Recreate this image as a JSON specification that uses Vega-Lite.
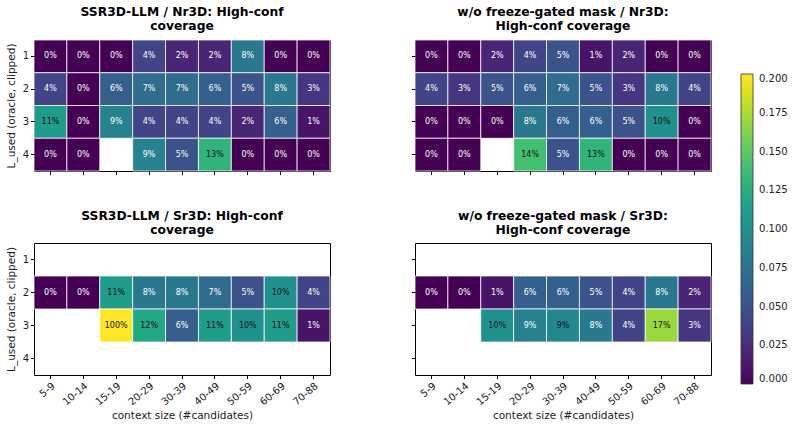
{
  "$schema": "https://vega.github.io/schema/vega-lite/v6.json",
  "padding": {"left": 5, "top": 5, "right": 5, "bottom": 5},
  "background": "white",
  "config": {
    "font": "DejaVu Sans",
    "view": {"stroke": "black", "strokeWidth": 1},
    "title": {"fontSize": 12.3, "fontWeight": "bold", "color": "black", "lineHeight": 14, "offset": 7},
    "axis": {"domain": false, "grid": false, "tickColor": "black", "tickSize": 3.5, "labelColor": "#222", "labelFontSize": 10, "titleFontSize": 10.5, "titleFontWeight": "normal", "titleColor": "#222", "labelPadding": 2},
    "concat": {"spacing": 30}
  },
  "data": {"values": [
    {"model": "SSR3D-LLM", "dataset": "Nr3D", "L": 1, "ctx": "5-9", "value": 0},
    {"model": "SSR3D-LLM", "dataset": "Nr3D", "L": 1, "ctx": "10-14", "value": 0},
    {"model": "SSR3D-LLM", "dataset": "Nr3D", "L": 1, "ctx": "15-19", "value": 0},
    {"model": "SSR3D-LLM", "dataset": "Nr3D", "L": 1, "ctx": "20-29", "value": 0.04},
    {"model": "SSR3D-LLM", "dataset": "Nr3D", "L": 1, "ctx": "30-39", "value": 0.02},
    {"model": "SSR3D-LLM", "dataset": "Nr3D", "L": 1, "ctx": "40-49", "value": 0.02},
    {"model": "SSR3D-LLM", "dataset": "Nr3D", "L": 1, "ctx": "50-59", "value": 0.08},
    {"model": "SSR3D-LLM", "dataset": "Nr3D", "L": 1, "ctx": "60-69", "value": 0},
    {"model": "SSR3D-LLM", "dataset": "Nr3D", "L": 1, "ctx": "70-88", "value": 0},
    {"model": "SSR3D-LLM", "dataset": "Nr3D", "L": 2, "ctx": "5-9", "value": 0.04},
    {"model": "SSR3D-LLM", "dataset": "Nr3D", "L": 2, "ctx": "10-14", "value": 0},
    {"model": "SSR3D-LLM", "dataset": "Nr3D", "L": 2, "ctx": "15-19", "value": 0.06},
    {"model": "SSR3D-LLM", "dataset": "Nr3D", "L": 2, "ctx": "20-29", "value": 0.07},
    {"model": "SSR3D-LLM", "dataset": "Nr3D", "L": 2, "ctx": "30-39", "value": 0.07},
    {"model": "SSR3D-LLM", "dataset": "Nr3D", "L": 2, "ctx": "40-49", "value": 0.06},
    {"model": "SSR3D-LLM", "dataset": "Nr3D", "L": 2, "ctx": "50-59", "value": 0.05},
    {"model": "SSR3D-LLM", "dataset": "Nr3D", "L": 2, "ctx": "60-69", "value": 0.08},
    {"model": "SSR3D-LLM", "dataset": "Nr3D", "L": 2, "ctx": "70-88", "value": 0.03},
    {"model": "SSR3D-LLM", "dataset": "Nr3D", "L": 3, "ctx": "5-9", "value": 0.11},
    {"model": "SSR3D-LLM", "dataset": "Nr3D", "L": 3, "ctx": "10-14", "value": 0},
    {"model": "SSR3D-LLM", "dataset": "Nr3D", "L": 3, "ctx": "15-19", "value": 0.088},
    {"model": "SSR3D-LLM", "dataset": "Nr3D", "L": 3, "ctx": "20-29", "value": 0.04},
    {"model": "SSR3D-LLM", "dataset": "Nr3D", "L": 3, "ctx": "30-39", "value": 0.04},
    {"model": "SSR3D-LLM", "dataset": "Nr3D", "L": 3, "ctx": "40-49", "value": 0.04},
    {"model": "SSR3D-LLM", "dataset": "Nr3D", "L": 3, "ctx": "50-59", "value": 0.02},
    {"model": "SSR3D-LLM", "dataset": "Nr3D", "L": 3, "ctx": "60-69", "value": 0.06},
    {"model": "SSR3D-LLM", "dataset": "Nr3D", "L": 3, "ctx": "70-88", "value": 0.01},
    {"model": "SSR3D-LLM", "dataset": "Nr3D", "L": 4, "ctx": "5-9", "value": 0},
    {"model": "SSR3D-LLM", "dataset": "Nr3D", "L": 4, "ctx": "10-14", "value": 0},
    {"model": "SSR3D-LLM", "dataset": "Nr3D", "L": 4, "ctx": "20-29", "value": 0.088},
    {"model": "SSR3D-LLM", "dataset": "Nr3D", "L": 4, "ctx": "30-39", "value": 0.05},
    {"model": "SSR3D-LLM", "dataset": "Nr3D", "L": 4, "ctx": "40-49", "value": 0.13},
    {"model": "SSR3D-LLM", "dataset": "Nr3D", "L": 4, "ctx": "50-59", "value": 0},
    {"model": "SSR3D-LLM", "dataset": "Nr3D", "L": 4, "ctx": "60-69", "value": 0},
    {"model": "SSR3D-LLM", "dataset": "Nr3D", "L": 4, "ctx": "70-88", "value": 0},

    {"model": "wo", "dataset": "Nr3D", "L": 1, "ctx": "5-9", "value": 0},
    {"model": "wo", "dataset": "Nr3D", "L": 1, "ctx": "10-14", "value": 0},
    {"model": "wo", "dataset": "Nr3D", "L": 1, "ctx": "15-19", "value": 0.02},
    {"model": "wo", "dataset": "Nr3D", "L": 1, "ctx": "20-29", "value": 0.04},
    {"model": "wo", "dataset": "Nr3D", "L": 1, "ctx": "30-39", "value": 0.05},
    {"model": "wo", "dataset": "Nr3D", "L": 1, "ctx": "40-49", "value": 0.01},
    {"model": "wo", "dataset": "Nr3D", "L": 1, "ctx": "50-59", "value": 0.02},
    {"model": "wo", "dataset": "Nr3D", "L": 1, "ctx": "60-69", "value": 0},
    {"model": "wo", "dataset": "Nr3D", "L": 1, "ctx": "70-88", "value": 0},
    {"model": "wo", "dataset": "Nr3D", "L": 2, "ctx": "5-9", "value": 0.04},
    {"model": "wo", "dataset": "Nr3D", "L": 2, "ctx": "10-14", "value": 0.03},
    {"model": "wo", "dataset": "Nr3D", "L": 2, "ctx": "15-19", "value": 0.05},
    {"model": "wo", "dataset": "Nr3D", "L": 2, "ctx": "20-29", "value": 0.06},
    {"model": "wo", "dataset": "Nr3D", "L": 2, "ctx": "30-39", "value": 0.07},
    {"model": "wo", "dataset": "Nr3D", "L": 2, "ctx": "40-49", "value": 0.05},
    {"model": "wo", "dataset": "Nr3D", "L": 2, "ctx": "50-59", "value": 0.03},
    {"model": "wo", "dataset": "Nr3D", "L": 2, "ctx": "60-69", "value": 0.08},
    {"model": "wo", "dataset": "Nr3D", "L": 2, "ctx": "70-88", "value": 0.04},
    {"model": "wo", "dataset": "Nr3D", "L": 3, "ctx": "5-9", "value": 0},
    {"model": "wo", "dataset": "Nr3D", "L": 3, "ctx": "10-14", "value": 0},
    {"model": "wo", "dataset": "Nr3D", "L": 3, "ctx": "15-19", "value": 0},
    {"model": "wo", "dataset": "Nr3D", "L": 3, "ctx": "20-29", "value": 0.08},
    {"model": "wo", "dataset": "Nr3D", "L": 3, "ctx": "30-39", "value": 0.06},
    {"model": "wo", "dataset": "Nr3D", "L": 3, "ctx": "40-49", "value": 0.06},
    {"model": "wo", "dataset": "Nr3D", "L": 3, "ctx": "50-59", "value": 0.05},
    {"model": "wo", "dataset": "Nr3D", "L": 3, "ctx": "60-69", "value": 0.10},
    {"model": "wo", "dataset": "Nr3D", "L": 3, "ctx": "70-88", "value": 0},
    {"model": "wo", "dataset": "Nr3D", "L": 4, "ctx": "5-9", "value": 0},
    {"model": "wo", "dataset": "Nr3D", "L": 4, "ctx": "10-14", "value": 0},
    {"model": "wo", "dataset": "Nr3D", "L": 4, "ctx": "20-29", "value": 0.14},
    {"model": "wo", "dataset": "Nr3D", "L": 4, "ctx": "30-39", "value": 0.05},
    {"model": "wo", "dataset": "Nr3D", "L": 4, "ctx": "40-49", "value": 0.13},
    {"model": "wo", "dataset": "Nr3D", "L": 4, "ctx": "50-59", "value": 0},
    {"model": "wo", "dataset": "Nr3D", "L": 4, "ctx": "60-69", "value": 0},
    {"model": "wo", "dataset": "Nr3D", "L": 4, "ctx": "70-88", "value": 0},

    {"model": "SSR3D-LLM", "dataset": "Sr3D", "L": 2, "ctx": "5-9", "value": 0},
    {"model": "SSR3D-LLM", "dataset": "Sr3D", "L": 2, "ctx": "10-14", "value": 0},
    {"model": "SSR3D-LLM", "dataset": "Sr3D", "L": 2, "ctx": "15-19", "value": 0.11},
    {"model": "SSR3D-LLM", "dataset": "Sr3D", "L": 2, "ctx": "20-29", "value": 0.08},
    {"model": "SSR3D-LLM", "dataset": "Sr3D", "L": 2, "ctx": "30-39", "value": 0.08},
    {"model": "SSR3D-LLM", "dataset": "Sr3D", "L": 2, "ctx": "40-49", "value": 0.07},
    {"model": "SSR3D-LLM", "dataset": "Sr3D", "L": 2, "ctx": "50-59", "value": 0.05},
    {"model": "SSR3D-LLM", "dataset": "Sr3D", "L": 2, "ctx": "60-69", "value": 0.10},
    {"model": "SSR3D-LLM", "dataset": "Sr3D", "L": 2, "ctx": "70-88", "value": 0.04},
    {"model": "SSR3D-LLM", "dataset": "Sr3D", "L": 3, "ctx": "15-19", "value": 1.0},
    {"model": "SSR3D-LLM", "dataset": "Sr3D", "L": 3, "ctx": "20-29", "value": 0.12},
    {"model": "SSR3D-LLM", "dataset": "Sr3D", "L": 3, "ctx": "30-39", "value": 0.06},
    {"model": "SSR3D-LLM", "dataset": "Sr3D", "L": 3, "ctx": "40-49", "value": 0.11},
    {"model": "SSR3D-LLM", "dataset": "Sr3D", "L": 3, "ctx": "50-59", "value": 0.10},
    {"model": "SSR3D-LLM", "dataset": "Sr3D", "L": 3, "ctx": "60-69", "value": 0.11},
    {"model": "SSR3D-LLM", "dataset": "Sr3D", "L": 3, "ctx": "70-88", "value": 0.01},

    {"model": "wo", "dataset": "Sr3D", "L": 2, "ctx": "5-9", "value": 0},
    {"model": "wo", "dataset": "Sr3D", "L": 2, "ctx": "10-14", "value": 0},
    {"model": "wo", "dataset": "Sr3D", "L": 2, "ctx": "15-19", "value": 0.01},
    {"model": "wo", "dataset": "Sr3D", "L": 2, "ctx": "20-29", "value": 0.06},
    {"model": "wo", "dataset": "Sr3D", "L": 2, "ctx": "30-39", "value": 0.06},
    {"model": "wo", "dataset": "Sr3D", "L": 2, "ctx": "40-49", "value": 0.05},
    {"model": "wo", "dataset": "Sr3D", "L": 2, "ctx": "50-59", "value": 0.04},
    {"model": "wo", "dataset": "Sr3D", "L": 2, "ctx": "60-69", "value": 0.08},
    {"model": "wo", "dataset": "Sr3D", "L": 2, "ctx": "70-88", "value": 0.02},
    {"model": "wo", "dataset": "Sr3D", "L": 3, "ctx": "15-19", "value": 0.10},
    {"model": "wo", "dataset": "Sr3D", "L": 3, "ctx": "20-29", "value": 0.087},
    {"model": "wo", "dataset": "Sr3D", "L": 3, "ctx": "30-39", "value": 0.093},
    {"model": "wo", "dataset": "Sr3D", "L": 3, "ctx": "40-49", "value": 0.08},
    {"model": "wo", "dataset": "Sr3D", "L": 3, "ctx": "50-59", "value": 0.04},
    {"model": "wo", "dataset": "Sr3D", "L": 3, "ctx": "60-69", "value": 0.17},
    {"model": "wo", "dataset": "Sr3D", "L": 3, "ctx": "70-88", "value": 0.03}
  ]},
  "vconcat": [
    {"spacing": 79, "hconcat": [
      {
        "width": 296, "height": 131,
        "title": {"text": ["SSR3D-LLM / Nr3D: High-conf", "coverage"]},
        "transform": [{"filter": "datum.model === 'SSR3D-LLM' && datum.dataset === 'Nr3D'"}],
        "encoding": {
          "x": {"field": "ctx", "type": "ordinal", "scale": {"domain": ["5-9","10-14","15-19","20-29","30-39","40-49","50-59","60-69","70-88"]}, "axis": {"labels": false, "title": null}},
          "y": {"field": "L", "type": "ordinal", "scale": {"domain": [1,2,3,4]}, "axis": {"title": "L_used (oracle, clipped)", "labelAngle": 0, "titlePadding": 6}}
        },
        "layer": [
          {"mark": {"type": "rect", "stroke": "white", "strokeWidth": 1, "strokeOpacity": 0.75},
           "encoding": {"color": {"field": "value", "type": "quantitative", "scale": {"scheme": "viridis", "domain": [0, 0.2], "clamp": true},
             "legend": {"orient": "none", "legendX": 707, "legendY": 34, "title": null, "direction": "vertical", "gradientLength": 310, "gradientThickness": 12, "gradientStrokeColor": "#333", "gradientStrokeWidth": 0.8, "values": [0,0.025,0.05,0.075,0.1,0.125,0.15,0.175,0.2], "format": ".3f", "labelFontSize": 10, "labelColor": "#222", "labelOffset": 6}}}},
          {"mark": {"type": "text", "fontSize": 8},
           "encoding": {"text": {"field": "value", "type": "quantitative", "format": ".0%"},
             "color": {"condition": {"test": "datum.value >= 0.09", "value": "#111"}, "value": "white"}}}
        ]
      },
      {
        "width": 296, "height": 131,
        "title": {"text": ["w/o freeze-gated mask / Nr3D:", "High-conf coverage"]},
        "transform": [{"filter": "datum.model === 'wo' && datum.dataset === 'Nr3D'"}],
        "encoding": {
          "x": {"field": "ctx", "type": "ordinal", "scale": {"domain": ["5-9","10-14","15-19","20-29","30-39","40-49","50-59","60-69","70-88"]}, "axis": {"labels": false, "title": null}},
          "y": {"field": "L", "type": "ordinal", "scale": {"domain": [1,2,3,4]}, "axis": {"labels": false, "title": null}}
        },
        "layer": [
          {"mark": {"type": "rect", "stroke": "white", "strokeWidth": 1, "strokeOpacity": 0.75},
           "encoding": {"color": {"field": "value", "type": "quantitative", "scale": {"scheme": "viridis", "domain": [0, 0.2], "clamp": true}, "legend": null}}},
          {"mark": {"type": "text", "fontSize": 8},
           "encoding": {"text": {"field": "value", "type": "quantitative", "format": ".0%"},
             "color": {"condition": {"test": "datum.value >= 0.09", "value": "#111"}, "value": "white"}}}
        ]
      }
    ]},
    {"spacing": 79, "hconcat": [
      {
        "width": 296, "height": 132,
        "title": {"text": ["SSR3D-LLM / Sr3D: High-conf", "coverage"]},
        "transform": [{"filter": "datum.model === 'SSR3D-LLM' && datum.dataset === 'Sr3D'"}],
        "encoding": {
          "x": {"field": "ctx", "type": "ordinal", "scale": {"domain": ["5-9","10-14","15-19","20-29","30-39","40-49","50-59","60-69","70-88"]}, "axis": {"title": "context size (#candidates)", "labelAngle": -40, "labelAlign": "right", "labelBaseline": "top", "titlePadding": 4}},
          "y": {"field": "L", "type": "ordinal", "scale": {"domain": [1,2,3,4]}, "axis": {"title": "L_used (oracle, clipped)", "labelAngle": 0, "titlePadding": 6}}
        },
        "layer": [
          {"mark": {"type": "rect", "stroke": "white", "strokeWidth": 1, "strokeOpacity": 0.75},
           "encoding": {"color": {"field": "value", "type": "quantitative", "scale": {"scheme": "viridis", "domain": [0, 0.2], "clamp": true}, "legend": null}}},
          {"mark": {"type": "text", "fontSize": 8},
           "encoding": {"text": {"field": "value", "type": "quantitative", "format": ".0%"},
             "color": {"condition": {"test": "datum.value >= 0.09", "value": "#111"}, "value": "white"}}}
        ]
      },
      {
        "width": 296, "height": 132,
        "title": {"text": ["w/o freeze-gated mask / Sr3D:", "High-conf coverage"]},
        "transform": [{"filter": "datum.model === 'wo' && datum.dataset === 'Sr3D'"}],
        "encoding": {
          "x": {"field": "ctx", "type": "ordinal", "scale": {"domain": ["5-9","10-14","15-19","20-29","30-39","40-49","50-59","60-69","70-88"]}, "axis": {"title": "context size (#candidates)", "labelAngle": -40, "labelAlign": "right", "labelBaseline": "top", "titlePadding": 4}},
          "y": {"field": "L", "type": "ordinal", "scale": {"domain": [1,2,3,4]}, "axis": {"labels": false, "title": null}}
        },
        "layer": [
          {"mark": {"type": "rect", "stroke": "white", "strokeWidth": 1, "strokeOpacity": 0.75},
           "encoding": {"color": {"field": "value", "type": "quantitative", "scale": {"scheme": "viridis", "domain": [0, 0.2], "clamp": true}, "legend": null}}},
          {"mark": {"type": "text", "fontSize": 8},
           "encoding": {"text": {"field": "value", "type": "quantitative", "format": ".0%"},
             "color": {"condition": {"test": "datum.value >= 0.09", "value": "#111"}, "value": "white"}}}
        ]
      }
    ]}
  ],
  "spacing": 33,
  "resolve": {"scale": {"color": "shared"}}
}
